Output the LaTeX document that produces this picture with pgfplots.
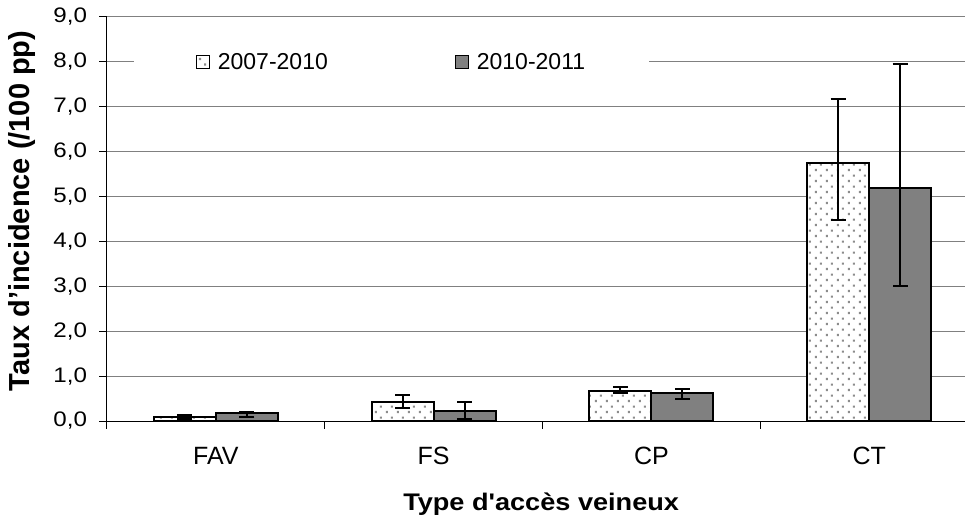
\documentclass[border=0pt]{standalone}
\usepackage{fontspec}
\setmainfont{Liberation Sans}
\newfontfamily\stretchfont{Liberation Sans}[FakeStretch=1.15]
\newfontfamily\xlabfont{Liberation Sans}[FakeStretch=1.13]
\usepackage{pgfplots}
\pgfplotsset{compat=1.18}
\usepackage{pgfplotstable}
\usetikzlibrary{patterns.meta}

\pgfdeclarepattern{
  name=bardots, type=uncolored,
  bottom left={\pgfpoint{0pt}{0pt}},
  top right={\pgfpoint{11pt}{11.4pt}},
  tile size={\pgfpoint{11pt}{11.4pt}},
  code={
    \pgfpathrectangle{\pgfpoint{1pt}{1pt}}{\pgfpoint{2.2pt}{2.2pt}}
    \pgfpathrectangle{\pgfpoint{6.5pt}{6.7pt}}{\pgfpoint{2.2pt}{2.2pt}}
    \pgfusepath{fill}
  }
}

\pgfplotstableread{
x y ep em
0 0.08 0.05 0.04
1 0.42 0.165 0.13
2 0.67 0.09 0.05
3 5.74 1.43 1.26
}\dataA
\pgfplotstableread{
x y ep em
0 0.18 0.03 0.10
1 0.215 0.205 0.175
2 0.63 0.09 0.13
3 5.19 2.76 2.18
}\dataB

\begin{document}
\begin{tikzpicture}
\begin{axis}[
  scale only axis, width=858pt, height=404pt,
  xmin=-0.5, xmax=3.44, ymin=0, ymax=9,
  ybar=0pt, bar width=62pt,
  legend image code/.code={\draw[#1, line width=1pt] (0pt,-6.5pt) rectangle (13pt,6.5pt);},
  axis lines=left, axis line style={-, line width=1pt, black},
  xtick={-0.5,0.5,1.5,2.5}, xticklabels={},
  extra x ticks={0,1,2,3}, extra x tick labels={FAV,FS,CP,CT},
  extra x tick style={major tick length=0pt, xticklabel style={font=\fontsize{25}{25}\selectfont, yshift=-23pt}},
  ytick={0,1,...,9},
  yticklabel style={font=\stretchfont\fontsize{21}{21}\selectfont, xshift=-9pt},
  /pgf/number format/.cd, fixed, fixed zerofill, precision=1, use comma, assume math mode=true, /pgfplots/.cd,
  tick align=outside, major tick length=7.5pt, tick style={black, line width=1pt},
  ymajorgrids, grid style={gray, line width=1pt},
  xlabel={\xlabfont\bfseries Type d'accès veineux},
  xlabel style={at={(axis description cs:0.506,0)}, anchor=base, yshift=-89pt, font=\fontsize{24}{24}\selectfont},
  ylabel={\bfseries Taux d'incidence (/100 pp)},
  ylabel style={at={(axis description cs:-0.0909,0.52)}, anchor=base, font=\fontsize{29}{29}\selectfont},
  legend columns=2,
  legend style={draw=none, fill=white, at={(axis description cs:0.3316,0.889)}, anchor=center,
    inner xsep=62pt, inner ysep=2pt, font=\fontsize{23}{23}\selectfont,
    /tikz/every even column/.append style={column sep=125pt}},
  error bars/error bar style={line width=2pt, black},
  error bars/error mark options={rotate=90, black, mark size=7.5pt, line width=2pt},
]
\addplot[draw=black, line width=2pt, fill=white, postaction={pattern=bardots, pattern color=gray!90},
  error bars/.cd, y dir=both, y explicit]
  table[x=x, y=y, y error plus=ep, y error minus=em] {\dataA};
\addplot[draw=black, line width=2pt, fill=gray,
  error bars/.cd, y dir=both, y explicit]
  table[x=x, y=y, y error plus=ep, y error minus=em] {\dataB};
\legend{\hspace{6pt}2007-2010, \hspace{6pt}2010-2011}
\end{axis}
\pgfresetboundingbox
\path[use as bounding box] (-107pt,-95pt) rectangle (858pt,421pt);
\end{tikzpicture}
\end{document}
